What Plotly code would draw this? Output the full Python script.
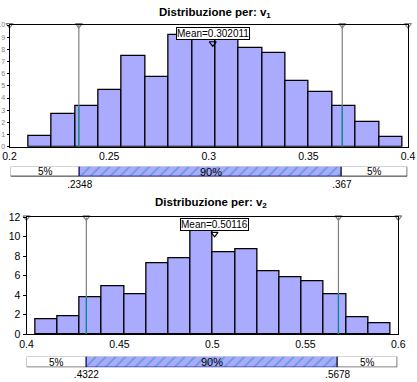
import numpy as np
import plotly.graph_objects as go

# ---------------- data ----------------
v1_edges = [0.2094, 0.2211, 0.2329, 0.2446, 0.2564, 0.2681, 0.2798, 0.2916, 0.3033,
            0.3151, 0.3268, 0.3385, 0.3503, 0.3620, 0.3738, 0.3855, 0.3972]
v1_heights = [0.87, 2.66, 3.37, 4.67, 7.47, 5.73, 9.17, 9.5, 9.3,
              8.1, 7.69, 5.41, 4.51, 3.37, 2.07, 0.79]
v1_mean = 0.302011
v1_pct = [0.2348, 0.367]
v1_pct_labels = [".2348", ".367"]
v1_xrange = [0.2, 0.4]
v1_xticks = [0.2, 0.25, 0.3, 0.35, 0.4]
v1_yticks = list(range(0, 11))

v2_edges = [0.4047, 0.4167, 0.4286, 0.4406, 0.4525, 0.4645, 0.4764, 0.4884, 0.5003,
            0.5123, 0.5242, 0.5361, 0.5481, 0.5600, 0.5720, 0.5839, 0.5959]
v2_heights = [1.51, 1.82, 3.77, 4.90, 4.08, 7.27, 7.78, 10.8, 8.40,
              8.71, 6.48, 5.83, 5.42, 4.08, 1.75, 1.10]
v2_mean = 0.50116
v2_pct = [0.4322, 0.5678]
v2_pct_labels = [".4322", ".5678"]
v2_xrange = [0.4, 0.6]
v2_xticks = [0.4, 0.45, 0.5, 0.55, 0.6]
v2_yticks = list(range(0, 13, 2))

band_labels = ["5%", "90%", "5%"]

W, H = 417, 382
FONT = "Liberation Sans, Arial, sans-serif"
BAR = "#aaaaff"
TEAL = "#008b8b"
GREY = "#808080"


def px_x(a, b):
    return [a / W, b / W]


def px_y(top, bottom):
    return [1 - bottom / H, 1 - top / H]


fig = go.Figure()


def add_panel(n, edges, heights, mean, pct, pct_labels, xrange, xticks, yticks,
              ymax, main_xdom, main_ydom, band_xdom, band_ydom, ytickfont, mean_y, tri_y,
              ticklen):
    xa_m, ya_m = f"x{2*n-1}", f"y{2*n-1}"
    xa_b, ya_b = f"x{2*n}", f"y{2*n}"
    edges = np.array(edges)
    centers = (edges[:-1] + edges[1:]) / 2
    widths = edges[1:] - edges[:-1]
    fig.add_trace(go.Bar(x=centers, y=heights, width=widths, xaxis=xa_m, yaxis=ya_m,
                         marker=dict(color=BAR, line=dict(color="black", width=1.3)),
                         showlegend=False, hoverinfo="skip"))
    # percentile lines
    for p in pct:
        idx = int(np.searchsorted(edges, p) - 1)
        hb = heights[idx] if 0 <= idx < len(heights) else 0
        fig.add_trace(go.Scatter(x=[p, p], y=[0, ymax], mode="lines", xaxis=xa_m, yaxis=ya_m,
                                 line=dict(color=GREY, width=1.2), showlegend=False,
                                 hoverinfo="skip", cliponaxis=False))
        fig.add_trace(go.Scatter(x=[p, p], y=[0, hb], mode="lines", xaxis=xa_m, yaxis=ya_m,
                                 line=dict(color=TEAL, width=1.2), showlegend=False,
                                 hoverinfo="skip"))
    # slider triangles
    fig.add_trace(go.Scatter(x=[xrange[0], pct[0], pct[1], xrange[1]], y=[ymax] * 4,
                             mode="markers", xaxis=xa_m, yaxis=ya_m, cliponaxis=False,
                             marker=dict(symbol="triangle-down-open", size=6,
                                         color=GREY, line=dict(width=1.2, color=GREY)),
                             showlegend=False, hoverinfo="skip"))
    # mean triangle
    fig.add_trace(go.Scatter(x=[mean], y=[tri_y], mode="markers", xaxis=xa_m, yaxis=ya_m,
                             cliponaxis=False,
                             marker=dict(symbol="triangle-down-open", size=6, color="black",
                                         line=dict(width=1.2, color="black")),
                             showlegend=False, hoverinfo="skip"))
    fig.add_annotation(x=mean, y=mean_y, xref=xa_m, yref=ya_m, text=f"Mean={mean}",
                       showarrow=False, xanchor="center", yanchor="bottom",
                       font=dict(family=FONT, size=10, color="black"),
                       bgcolor="white", bordercolor="black", borderwidth=1, borderpad=0)
    # percentile band
    starts = [xrange[0], pct[0], pct[1]]
    ends = [pct[0], pct[1], xrange[1]]
    for i in range(3):
        hatched = i == 1
        fig.add_trace(go.Bar(y=[0.5], x=[ends[i] - starts[i]], base=[starts[i]], width=1,
                             orientation="h", xaxis=xa_b, yaxis=ya_b,
                             marker=dict(color=BAR if hatched else "white",
                                         line=dict(color="#000080" if hatched else "black", width=1),
                                         pattern=dict(shape="/" if hatched else "",
                                                      fgcolor=TEAL, bgcolor=BAR,
                                                      size=7, solidity=0.2)),
                             showlegend=False, hoverinfo="skip"))
        fig.add_annotation(x=(starts[i] + ends[i]) / 2, y=0.5, xref=xa_b, yref=ya_b,
                           text=band_labels[i], showarrow=False,
                           font=dict(family=FONT, size=11 if hatched else 10, color="black"))

    axis_common = dict(showgrid=False, zeroline=False, automargin=False)
    fig.update_layout(**{
        f"xaxis{2*n-1}": dict(domain=main_xdom, range=xrange, anchor=ya_m, tickvals=xticks,
                              ticktext=[("%g" % t) for t in xticks],
                              showline=True, linecolor="black", linewidth=1, mirror=True,
                              ticks="", tickfont=dict(family=FONT, size=10.5, color="black"),
                              **axis_common),
        f"yaxis{2*n-1}": dict(domain=main_ydom, range=[0, ymax], anchor=xa_m, tickvals=yticks,
                              showline=True, linecolor="black", linewidth=1, mirror=True,
                              ticks="outside", ticklen=ticklen, tickcolor="black",
                              tickfont=ytickfont, **axis_common),
        f"xaxis{2*n}": dict(domain=band_xdom, range=xrange, anchor=ya_b, tickvals=pct,
                            ticktext=pct_labels, showline=False, ticks="",
                            tickfont=dict(family=FONT, size=10, color="black"), **axis_common),
        f"yaxis{2*n}": dict(domain=band_ydom, range=[0, 1], anchor=xa_b, visible=False,
                            **axis_common),
    })


add_panel(1, v1_edges, v1_heights, v1_mean, v1_pct, v1_pct_labels, v1_xrange, v1_xticks,
          v1_yticks, 10, px_x(9.5, 408), px_y(25, 146.7), px_x(10.7, 407.3),
          px_y(166.7, 176.7), dict(family=FONT, size=7, color=GREY), 8.78, 8.5, 2)
add_panel(2, v2_edges, v2_heights, v2_mean, v2_pct, v2_pct_labels, v2_xrange, v2_xticks,
          v2_yticks, 12, px_x(26.5, 398.3), px_y(217.3, 334), px_x(26.7, 397.3),
          px_y(356.7, 367.3), dict(family=FONT, size=10.5, color="black"), 10.6, 10.3, 3)

fig.add_annotation(x=215 / W, y=1 - 13 / H, xref="paper", yref="paper", yanchor="middle",
                   text="<b>Distribuzione per: v<sub>1</sub></b>", showarrow=False,
                   font=dict(family=FONT, size=11.5, color="black"))
fig.add_annotation(x=211.5 / W, y=1 - 203 / H, xref="paper", yref="paper", yanchor="middle",
                   text="<b>Distribuzione per: v<sub>2</sub></b>", showarrow=False,
                   font=dict(family=FONT, size=11.5, color="black"))

fig.update_layout(width=W, height=H, margin=dict(l=0, r=0, t=0, b=0, autoexpand=False),
                  paper_bgcolor="white", plot_bgcolor="white", barmode="overlay",
                  bargap=0, showlegend=False)

fig.write_html("out.html", config={"displayModeBar": False},
               post_script="document.body.style.margin='0';document.body.style.padding='0';")
